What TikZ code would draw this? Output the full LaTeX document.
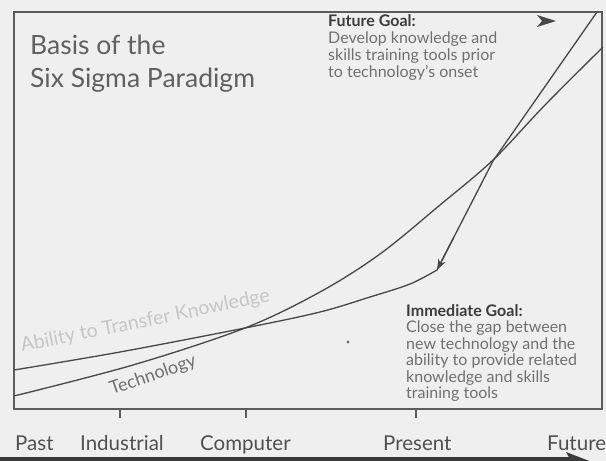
\documentclass[tikz,border=0pt]{standalone}
\usepackage{fontspec}
\setmainfont{Lato}
\usetikzlibrary{arrows.meta,calc}
\definecolor{paper}{HTML}{EFEFEF}
\definecolor{framegray}{HTML}{5C5C5C}
\definecolor{curvegray}{HTML}{474747}
\definecolor{titlegray}{HTML}{606060}
\definecolor{headgray}{HTML}{3C3C3C}
\definecolor{bodygray}{HTML}{707070}
\definecolor{labelgray}{HTML}{505050}
\definecolor{faintgray}{HTML}{C6C6C6}
\definecolor{axisgray}{HTML}{3A3A3A}
\begin{document}
\begin{tikzpicture}[x=1pt,y=-1pt,
  frameline/.style={draw=framegray,line width=1.6pt},
  curveline/.style={draw=curvegray,line width=1.3pt},
  tickline/.style={draw=framegray,line width=1.1pt},
  titletext/.style={anchor=base west,inner sep=0pt,text=titlegray,font=\fontsize{26.5}{30}\selectfont},
  goalhead/.style={anchor=base west,inner sep=0pt,text=headgray,font=\fontsize{16}{17}\selectfont\bfseries},
  goalbody/.style={anchor=base west,inner sep=0pt,text=bodygray,font=\fontsize{16}{17}\selectfont},
  eralabel/.style={anchor=base west,inner sep=0pt,text=labelgray,font=\fontsize{20.5}{24}\selectfont},
  curvelabel/.style={anchor=base west,inner sep=0pt}]
\useasboundingbox (0,0) rectangle (606,461);
\clip (0,0) rectangle (606,461);
\fill[paper] (0,0) rectangle (606,461);

% chart frame
\draw[frameline] (14,12) rectangle (602,409);

% ticks under the frame
\foreach \tx/\nm in {120/ind,246/comp,416/pres}{
  \coordinate (tick-\nm) at (\tx,409);
  \draw[tickline] (tick-\nm) -- ++(0,9);
}

% technology curve
\draw[curveline] plot[smooth,tension=0.55] coordinates
  {(14,396) (133,365) (245,328) (320,292) (380,254) (440,205) (493,160) (545,105) (603,47)};

% knowledge curve: slow growth, then the jump that closes the gap
\coordinate (kink) at (437,270);
\coordinate (cross) at (493,161);
\coordinate (goaltop) at (597,12);
\draw[curveline] plot[smooth,tension=0.55] coordinates
  {(14,370) (120,352) (245,328) (320,312) (370,297) (410,284) (437,270)}
  -- (cross) -- (goaltop);
\draw[curveline,-{Stealth[length=11pt,width=8pt]}] ($(cross)!0.7!(kink)$) -- (kink);

% future goal pointer
\fill[curvegray] (556,21) -- (537,15) -- (542,21) -- (537,27) -- cycle;

% stray mark
\fill[bodygray] (348,342) circle (1.6);

% time axis along the bottom
\draw[axisgray,line width=8pt] (0,461) -- (572,461);
\fill[axisgray] (592,462) -- (566,452) -- (571,461) -- (566,472) -- cycle;

% title
\node[titletext] (title1) at (30,54) {Basis of the};
\node[titletext] (title2) at (30,87) {Six Sigma Paradigm};

% future goal note
\node[goalhead] (fg0) at (328,26) {Future Goal:};
\node[goalbody] (fg1) at (328,43) {Develop knowledge and};
\node[goalbody] (fg2) at (328,60) {skills training tools prior};
\node[goalbody] (fg3) at (328,77) {to technology's onset};

% immediate goal note
\node[goalhead] (ig0) at (406,316) {Immediate Goal:};
\node[goalbody] (ig1) at (406,332.5) {Close the gap between};
\node[goalbody] (ig2) at (406,349) {new technology and the};
\node[goalbody] (ig3) at (406,365.5) {ability to provide related};
\node[goalbody] (ig4) at (406,382) {knowledge and skills};
\node[goalbody] (ig5) at (406,398) {training tools};

% curve labels
\node[curvelabel,rotate=11.5,text=faintgray,font=\fontsize{19.5}{22}\selectfont] (lblknow) at (22,352) {Ability to Transfer Knowledge};
\node[curvelabel,rotate=19,text=bodygray,font=\fontsize{18}{22}\selectfont] (lbltech) at (112,395) {Technology};

% era labels
\node[eralabel] (past) at (15,450) {Past};
\node[eralabel] (industrial) at (80,450) {Industrial};
\node[eralabel] (computer) at (200,450) {Computer};
\node[eralabel] (present) at (383,450) {Present};
\node[eralabel] (future) at (547,450) {Future};
\end{tikzpicture}
\end{document}
